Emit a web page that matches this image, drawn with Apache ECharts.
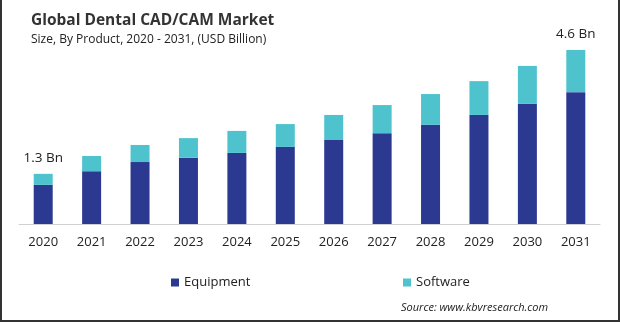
<!DOCTYPE html>
<html>
<head>
<meta charset="utf-8">
<script src="https://cdn.jsdelivr.net/npm/echarts@6/dist/echarts.min.js"></script>
<style>
html,body{margin:0;padding:0;background:#fff;}
#c{width:620px;height:322px;}
</style>
</head>
<body>
<div id="c"></div>
<script>
var years = ['2020','2021','2022','2023','2024','2025','2026','2027','2028','2029','2030','2031'];
var equipment = [1.03,1.39,1.63,1.74,1.87,2.03,2.21,2.39,2.61,2.87,3.16,3.47];
var software = [0.29,0.40,0.45,0.52,0.58,0.60,0.66,0.74,0.81,0.89,1.00,1.11];
var totalLabels = ['1.3 Bn','','','','','','','','','','','4.6 Bn'];

var FONT = '"Open Sans", "Noto Sans", sans-serif';
var chart = echarts.init(document.getElementById('c'), null, {renderer:'canvas'});
chart.setOption({
  animation:false,
  backgroundColor:'#fff',
  textStyle:{fontFamily:FONT},
  title:{
    text:'Global Dental CAD/CAM Market',
    subtext:'Size, By Product, 2020 - 2031, (USD Billion)',
    left:26, top:8, itemGap:5,
    textStyle:{fontFamily:FONT,fontSize:15.5,fontWeight:'bold',color:'#333'},
    subtextStyle:{fontFamily:FONT,fontSize:12,color:'#222'}
  },
  legend:[
    {data:['Equipment'],left:166,top:271,itemWidth:8,itemHeight:8,icon:'rect',
     textStyle:{fontFamily:FONT,fontSize:13,color:'#222'}},
    {data:['Software'],left:398,top:271,itemWidth:8,itemHeight:8,icon:'rect',
     textStyle:{fontFamily:FONT,fontSize:13,color:'#222'}}
  ],
  grid:{left:19,right:20,top:34,bottom:98,containLabel:false},
  xAxis:{
    type:'category',data:years,
    axisLine:{lineStyle:{color:'#d0d0d0',width:1}},
    axisTick:{show:false},
    axisLabel:{color:'#222',fontSize:13,margin:12,fontFamily:FONT}
  },
  yAxis:{type:'value',min:0,max:5,show:false,splitLine:{show:false}},
  series:[
    {name:'Equipment',type:'bar',stack:'t',data:equipment,barWidth:19,
     itemStyle:{color:'#2b3990'}},
    {name:'Software',type:'bar',stack:'t',data:software,barWidth:19,
     itemStyle:{color:'#4fc3cd'},
     label:{show:true,position:'top',distance:9,fontSize:13.5,color:'#222',fontFamily:FONT,
       formatter:function(p){return totalLabels[p.dataIndex];}}}
  ],
  graphic:[
    {type:'text',left:401,top:302,style:{text:'Source: www.kbvresearch.com',font:'italic 11px "Open Sans", sans-serif',fill:'#222'}},
    {type:'rect',shape:{x:0,y:0,width:2,height:322},style:{fill:'#333'}},
    {type:'rect',shape:{x:618,y:0,width:2,height:322},style:{fill:'#333'}},
    {type:'rect',shape:{x:0,y:320,width:620,height:2},style:{fill:'#333'}}
  ]
});
</script>
</body>
</html>
